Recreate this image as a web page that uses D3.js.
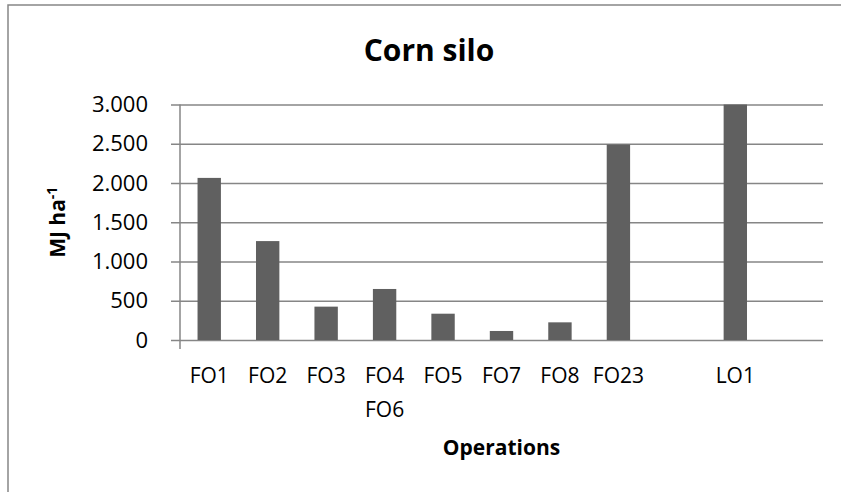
<!DOCTYPE html>
<html lang="en">
<head>
    <meta charset="UTF-8">
    <script src="https://d3js.org/d3.v7.min.js"></script>
    <style>
        body { margin: 0; background: #fff; font-family: "Open Sans", "Noto Sans", sans-serif; }
        svg text { fill: #000; }
    </style>
</head>
<body>
    <div id="chart"></div>

    <script>
        // Data
        const categories = ["FO1", "FO2", "FO3", "FO4\nFO6", "FO5", "FO7", "FO8", "FO23", "", "LO1", ""];
        const values = [2065, 1260, 425, 650, 335, 115, 225, 2490, null, 3000, null];
        const yTicks = [0, 500, 1000, 1500, 2000, 2500, 3000];

        const W = 841, H = 492;
        const margin = {top: 104.5, right: 18, bottom: 152, left: 180};
        const width = W - margin.left - margin.right,
              height = H - margin.top - margin.bottom;

        const gridColor = "#868686";
        const barColor = "#606060";

        const svg = d3.select("#chart")
            .append("svg")
            .attr("width", W)
            .attr("height", H);

        // Chart area border (only top and left show, the rest is cut off)
        svg.append("path")
            .attr("d", `M8,${H} V5 H${W}`)
            .attr("fill", "none")
            .attr("stroke", gridColor)
            .attr("stroke-width", 1.5);

        const g = svg.append("g")
            .attr("transform", `translate(${margin.left},${margin.top})`);

        // Scales
        const x = d3.scaleBand()
            .domain(d3.range(categories.length))
            .range([0, width])
            .paddingInner(0.6)
            .paddingOuter(0.3);

        const y = d3.scaleLinear()
            .domain([0, 3000])
            .range([height, 0]);

        const locale = d3.formatLocale({decimal: ",", thousands: ".", grouping: [3], currency: ["", ""]});
        const fmt = locale.format(",d");

        // Gridlines + y axis
        const yAxis = g.append("g")
            .call(d3.axisLeft(y).tickValues(yTicks).tickFormat(fmt).tickSize(-width).tickSizeOuter(0).tickPadding(32));
        yAxis.select(".domain").remove();
        yAxis.selectAll(".tick line")
            .attr("x1", -9)
            .attr("stroke", gridColor)
            .attr("stroke-width", 1.5);
        yAxis.selectAll(".tick text")
            .style("font-size", "22px")
            .style("font-family", "'Open Sans', sans-serif");

        // Vertical axis line
        g.append("line")
            .attr("x1", 0).attr("x2", 0)
            .attr("y1", 0).attr("y2", height + 9)
            .attr("stroke", gridColor)
            .attr("stroke-width", 1.5);

        // Bars
        g.selectAll(".bar")
            .data(values.map((v, i) => ({i, v})).filter(d => d.v !== null))
            .enter()
            .append("rect")
            .attr("class", "bar")
            .attr("x", d => x(d.i))
            .attr("y", d => y(d.v))
            .attr("width", x.bandwidth())
            .attr("height", d => height - y(d.v))
            .attr("fill", barColor);

        // Category labels
        const xLabels = g.append("g")
            .selectAll("text")
            .data(categories)
            .enter()
            .append("text")
            .attr("x", (d, i) => x(i) + x.bandwidth() / 2)
            .attr("y", height + 43)
            .attr("text-anchor", "middle")
            .style("font-size", "21px");
        xLabels.each(function(d) {
            const t = d3.select(this);
            d.split("\n").forEach((line, k) => {
                t.append("tspan")
                    .attr("x", t.attr("x"))
                    .attr("dy", k === 0 ? 0 : 34)
                    .text(line);
            });
        });

        // Axis titles
        g.append("text")
            .attr("x", width / 2)
            .attr("y", height + 115)
            .attr("text-anchor", "middle")
            .style("font-size", "21px")
            .style("font-weight", "bold")
            .text("Operations");

        const yTitle = svg.append("text")
            .attr("transform", `translate(65,${margin.top + height / 2}) rotate(-90)`)
            .attr("text-anchor", "middle")
            .style("font-size", "21px")
            .style("font-weight", "bold");
        yTitle.append("tspan").text("MJ ha");
        yTitle.append("tspan").attr("dy", -8).style("font-size", "14px").text("-1");

        // Chart title
        svg.append("text")
            .attr("x", 429)
            .attr("y", 61)
            .attr("text-anchor", "middle")
            .style("font-size", "30px")
            .style("font-weight", "bold")
            .text("Corn silo");
    </script>
</body>
</html>
